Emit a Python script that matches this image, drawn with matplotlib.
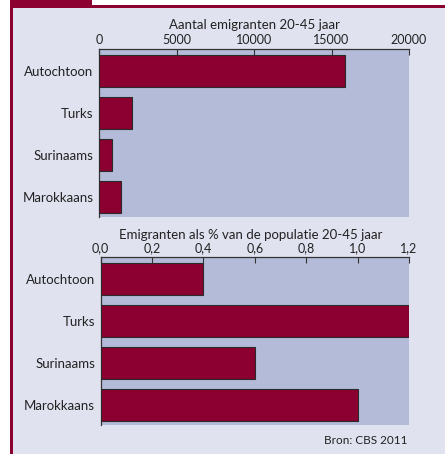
import matplotlib
matplotlib.use('Agg')
import matplotlib.pyplot as plt
from matplotlib.patches import Rectangle

plt.rcParams['font.family'] = ['Lato', 'DejaVu Sans']

groups = ['Autochtoon', 'Turks', 'Surinaams', 'Marokkaans']
aantal = [15900, 2150, 850, 1450]
procent = [0.40, 1.20, 0.60, 1.00]

aantal_ticks = [0, 5000, 10000, 15000, 20000]
procent_ticks = [0.0, 0.2, 0.4, 0.6, 0.8, 1.0, 1.2]
procent_labels = ['0,0', '0,2', '0,4', '0,6', '0,8', '1,0', '1,2']

bg = '#e0e2f0'
face = '#b4bbd8'
bar_col = '#8b0030'
txt = '#222222'

W, H = 445, 454
fig = plt.figure(figsize=(W / 100, H / 100), dpi=100)
fig.patch.set_facecolor('white')

# frame: light panel, red left/top border and the tab
def frame_rect(x, y, w, h, col):
    fig.patches.append(Rectangle((x / W, 1 - (y + h) / H), w / W, h / H,
                                 transform=fig.transFigure, facecolor=col,
                                 edgecolor='none', zorder=-2))

frame_rect(12, 7, W, H, bg)
frame_rect(10, 5, 2.5, H, bar_col)
frame_rect(10, 5, W, 2.5, bar_col)
frame_rect(10, 0, 82, 6, bar_col)


def style(ax, values, xmax, ticks, labels):
    ax.set_facecolor(face)
    y = list(range(len(groups)))
    ax.barh(y, values, height=0.76, color=bar_col, edgecolor='#2a2a2a', linewidth=0.8, zorder=3)
    ax.set_xlim(0, xmax)
    ax.set_ylim(3.48, -0.53)
    ax.set_yticks(y)
    ax.set_yticklabels(groups, fontsize=9.5, color=txt)
    ax.tick_params(axis='y', length=0, pad=4)
    ax.xaxis.tick_top()
    ax.set_xticks(ticks)
    ax.set_xticklabels(labels, fontsize=9, color=txt)
    ax.tick_params(axis='x', direction='in', length=4, width=0.8, color='#333333', pad=2)
    for s in ['right', 'bottom']:
        ax.spines[s].set_visible(False)
    for s in ['left', 'top']:
        ax.spines[s].set_color('#333333')
        ax.spines[s].set_linewidth(0.9)


ax1 = fig.add_axes([99 / W, 1 - 217 / H, 310 / W, 168.5 / H])
style(ax1, aantal, 20000, aantal_ticks, [str(t) for t in aantal_ticks])

ax2 = fig.add_axes([100.5 / W, 1 - 425 / H, 308.5 / W, 168 / H])
style(ax2, procent, 1.2, procent_ticks, procent_labels)

fig.text(254 / W, 1 - 25 / H, 'Aantal emigranten 20-45 jaar', ha='center', va='center',
         fontsize=9.5, color=txt)
fig.text(251 / W, 1 - 235 / H, 'Emigranten als % van de populatie 20-45 jaar', ha='center',
         va='center', fontsize=9.5, color=txt)
fig.text(407 / W, 1 - 440 / H, 'Bron: CBS 2011', ha='right', va='center', fontsize=8.5, color=txt)

fig.savefig('out.png', dpi=100, facecolor=fig.get_facecolor())
